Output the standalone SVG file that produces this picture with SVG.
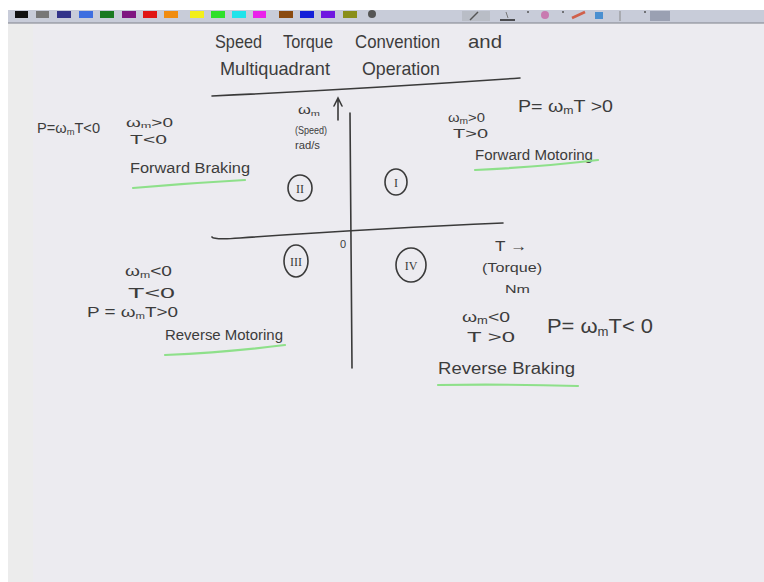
<svg xmlns="http://www.w3.org/2000/svg" width="764" height="582" viewBox="0 0 764 582">
<defs>
<style>
.t{font-family:"Liberation Sans","DejaVu Sans",sans-serif;fill:#3c3c3c;}
.ink{fill:none;stroke:#3a3a3a;stroke-width:1.6;stroke-linecap:round;}
.grn{fill:none;stroke:#8ee08a;stroke-width:2.2;stroke-linecap:round;}
.num{font-family:"Liberation Serif",serif;fill:#3a3a3a;font-size:12px;text-anchor:middle;}
.sw{stroke:none;}
</style>
</defs>
<rect x="0" y="0" width="764" height="582" fill="#ffffff"/>
<rect x="8" y="24" width="756" height="558" fill="#ecebf0"/>
<rect x="8" y="24" width="25" height="558" fill="#ececec"/>
<g id="toolbar">
<rect x="8" y="10" width="756" height="13" fill="#c8ccd9"/>
<line x1="8" y1="23" x2="764" y2="23" stroke="#9a9ca6" stroke-width="1.5"/>
<rect class="sw" x="15" y="11" width="13" height="7" fill="#111"/>
<rect class="sw" x="36" y="11" width="13" height="7" fill="#777"/>
<rect class="sw" x="57" y="11" width="14" height="7" fill="#33348a"/>
<rect class="sw" x="79" y="11" width="14" height="7" fill="#3d6ee0"/>
<rect class="sw" x="100" y="11" width="14" height="7" fill="#1a7a22"/>
<rect class="sw" x="122" y="11" width="14" height="7" fill="#7e1680"/>
<rect class="sw" x="143" y="11" width="14" height="7" fill="#e01515"/>
<rect class="sw" x="164" y="11" width="14" height="7" fill="#f08c10"/>
<rect class="sw" x="190" y="11" width="14" height="7" fill="#f3ef1a"/>
<rect class="sw" x="211" y="11" width="14" height="7" fill="#2fe02a"/>
<rect class="sw" x="232" y="11" width="14" height="7" fill="#1fe3ea"/>
<rect class="sw" x="253" y="11" width="13" height="7" fill="#ea22ea"/>
<rect class="sw" x="279" y="11" width="14" height="7" fill="#8a4a10"/>
<rect class="sw" x="300" y="11" width="14" height="7" fill="#1420d8"/>
<rect class="sw" x="321" y="11" width="14" height="7" fill="#6f18e0"/>
<rect class="sw" x="343" y="11" width="14" height="7" fill="#8a8f1a"/>
<circle cx="372" cy="14" r="4" fill="#555"/>
<rect x="462" y="11" width="28" height="10" fill="#b9bdc6"/>
<line x1="470" y1="20" x2="478" y2="12" stroke="#555" stroke-width="1.5"/>
<line x1="500" y1="20" x2="515" y2="20" stroke="#222" stroke-width="1.5"/>
<line x1="506" y1="12" x2="508" y2="18" stroke="#777" stroke-width="1"/>
<circle cx="545" cy="15" r="4" fill="#c87ab0"/>
<circle cx="528" cy="12" r="1" fill="#555"/>
<circle cx="563" cy="12" r="1" fill="#555"/>
<path d="M572,18 L585,12" stroke="#d0604a" stroke-width="2.5"/>
<rect x="595" y="12" width="8" height="7" fill="#4a8fd0"/>
<line x1="620" y1="11" x2="620" y2="21" stroke="#888" stroke-width="1"/>
<circle cx="645" cy="12" r="1" fill="#555"/>
<rect x="650" y="11" width="20" height="10" fill="#9aa0b2"/>
</g>
<g id="title">
<text class="t" x="215" y="48" font-size="19" textLength="47" lengthAdjust="spacingAndGlyphs">Speed</text>
<text class="t" x="283" y="48" font-size="19" textLength="50" lengthAdjust="spacingAndGlyphs">Torque</text>
<text class="t" x="355" y="48" font-size="19" textLength="85" lengthAdjust="spacingAndGlyphs">Convention</text>
<text class="t" x="468" y="48" font-size="19" textLength="34" lengthAdjust="spacingAndGlyphs">and</text>
<text class="t" x="220" y="75" font-size="19" textLength="110" lengthAdjust="spacingAndGlyphs">Multiquadrant</text>
<text class="t" x="362" y="75" font-size="19" textLength="78" lengthAdjust="spacingAndGlyphs">Operation</text>
<path class="ink" d="M212,96 Q360,89 520,78"/>
</g>
<g id="axes">
<path class="ink" d="M350,113 Q351,240 352,368"/>
<path class="ink" d="M212,237 Q214,240 240,238 Q380,228 503,223"/>
<path class="ink" d="M338,120 L338,99 M334,106 L338,98 L342,106"/>
<text class="t" x="340" y="248" font-size="11">0</text>
<text class="t" x="298" y="114" font-size="12" textLength="22" lengthAdjust="spacingAndGlyphs">ω<tspan font-size="8" dy="2">m</tspan></text>
<text class="t" x="295" y="134" font-size="11" textLength="32" lengthAdjust="spacingAndGlyphs">(Speed)</text>
<text class="t" x="295" y="149" font-size="11" textLength="25" lengthAdjust="spacingAndGlyphs">rad/s</text>
<text class="t" x="495" y="251" font-size="15" textLength="32" lengthAdjust="spacingAndGlyphs">T →</text>
<text class="t" x="482" y="272" font-size="12" textLength="60" lengthAdjust="spacingAndGlyphs">(Torque)</text>
<text class="t" x="505" y="293" font-size="11" textLength="25" lengthAdjust="spacingAndGlyphs">Nm</text>
</g>
<g id="quadrant-2">
<ellipse class="ink" cx="300" cy="188" rx="12" ry="13"/>
<text class="num" x="300" y="193">II</text>
<text class="t" x="37" y="133" font-size="14" textLength="63" lengthAdjust="spacingAndGlyphs">P=ω<tspan font-size="9" dy="2">m</tspan><tspan dy="-2">T&lt;0</tspan></text>
<text class="t" x="126" y="127" font-size="12" textLength="47" lengthAdjust="spacingAndGlyphs">ω<tspan font-size="8" dy="1">m</tspan><tspan dy="-1">&gt;0</tspan></text>
<text class="t" x="130" y="144" font-size="13" textLength="37" lengthAdjust="spacingAndGlyphs">T&lt;0</text>
<text class="t" x="130" y="173" font-size="14" textLength="120" lengthAdjust="spacingAndGlyphs">Forward Braking</text>
<path class="grn" d="M133,188 Q190,183 245,180"/>
</g>
<g id="quadrant-1">
<ellipse class="ink" cx="396" cy="182" rx="11" ry="13"/>
<text class="num" x="396" y="187">I</text>
<text class="t" x="448" y="122" font-size="13" textLength="37" lengthAdjust="spacingAndGlyphs">ω<tspan font-size="9" dy="2">m</tspan><tspan dy="-2">&gt;0</tspan></text>
<text class="t" x="453" y="138" font-size="13" textLength="35" lengthAdjust="spacingAndGlyphs">T&gt;0</text>
<text class="t" x="518" y="112" font-size="16" textLength="95" lengthAdjust="spacingAndGlyphs">P= ω<tspan font-size="10" dy="2">m</tspan><tspan dy="-2">T &gt;0</tspan></text>
<text class="t" x="475" y="160" font-size="14" textLength="118" lengthAdjust="spacingAndGlyphs">Forward Motoring</text>
<path class="grn" d="M475,170 Q540,167 598,160"/>
</g>
<g id="quadrant-3">
<ellipse class="ink" cx="296" cy="261" rx="12" ry="16"/>
<text class="num" x="296" y="266">III</text>
<text class="t" x="125" y="276" font-size="14" textLength="47" lengthAdjust="spacingAndGlyphs">ω<tspan font-size="9" dy="2">m</tspan><tspan dy="-2">&lt;0</tspan></text>
<text class="t" x="128" y="298" font-size="15" textLength="47" lengthAdjust="spacingAndGlyphs">T&lt;0</text>
<text class="t" x="87" y="317" font-size="15" textLength="91" lengthAdjust="spacingAndGlyphs">P = ω<tspan font-size="9" dy="2">m</tspan><tspan dy="-2">T&gt;0</tspan></text>
<text class="t" x="165" y="340" font-size="14" textLength="118" lengthAdjust="spacingAndGlyphs">Reverse Motoring</text>
<path class="grn" d="M165,355 Q230,352 285,345"/>
</g>
<g id="quadrant-4">
<ellipse class="ink" cx="411" cy="265" rx="15" ry="17"/>
<text class="num" x="411" y="270">IV</text>
<text class="t" x="462" y="322" font-size="15" textLength="48" lengthAdjust="spacingAndGlyphs">ω<tspan font-size="10" dy="2">m</tspan><tspan dy="-2">&lt;0</tspan></text>
<text class="t" x="467" y="342" font-size="15" textLength="48" lengthAdjust="spacingAndGlyphs">T &gt;0</text>
<text class="t" x="547" y="333" font-size="20" textLength="106" lengthAdjust="spacingAndGlyphs">P= ω<tspan font-size="12" dy="3">m</tspan><tspan dy="-3">T&lt; 0</tspan></text>
<text class="t" x="438" y="374" font-size="16" textLength="137" lengthAdjust="spacingAndGlyphs">Reverse Braking</text>
<path class="grn" d="M438,385 Q510,384 578,386"/>
</g>
</svg>
